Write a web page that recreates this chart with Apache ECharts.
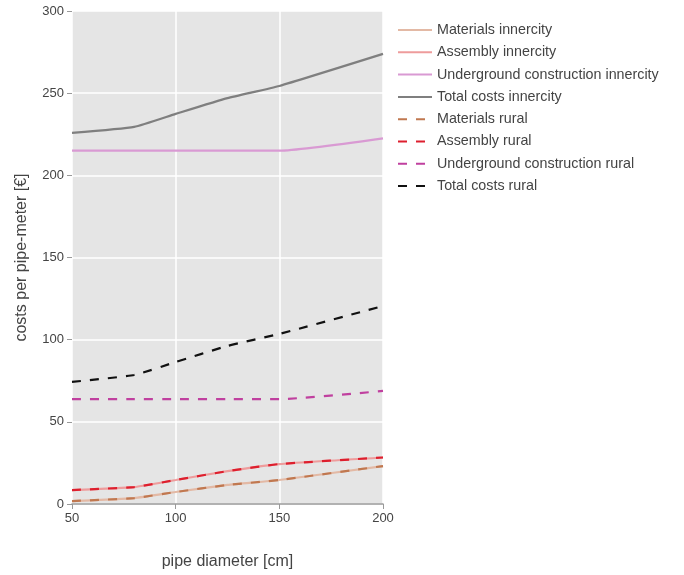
<!DOCTYPE html>
<html><head><meta charset="utf-8">
<script src="https://cdn.jsdelivr.net/npm/echarts@6/dist/echarts.min.js"></script>
<style>html,body{margin:0;padding:0;background:#fff}#c{width:684px;height:575px}</style>
</head><body><div id="c"></div>
<script>
const diameters = [50, 80, 100, 125, 150, 200];
const materialsInnercity = [1.8, 3.6, 7.3, 11.6, 14.6, 23.1];
const assemblyInnercity = [8.5, 10.3, 14.6, 20.0, 24.3, 28.3];
const undergroundInnercity = [215, 215, 215, 215, 215, 222.5];
const totalInnercity = [225.8, 229.5, 237.4, 247.0, 254.4, 273.9];
const materialsRural = [1.8, 3.6, 7.3, 11.6, 14.6, 23.1];
const assemblyRural = [8.5, 10.3, 14.6, 20.0, 24.3, 28.3];
const undergroundRural = [63.8, 63.8, 63.8, 63.8, 63.8, 68.8];
const totalRural = [74.3, 78.5, 86.4, 96.2, 103.5, 120.5];
const yTicks = [0, 50, 100, 150, 200, 250, 300];

const seriesDefs = [
  ['Materials innercity', materialsInnercity, '#e3b9a5', 'solid'],
  ['Assembly innercity', assemblyInnercity, '#ee9c9c', 'solid'],
  ['Underground construction innercity', undergroundInnercity, '#d99ad3', 'solid'],
  ['Total costs innercity', totalInnercity, '#7f7f7f', 'solid'],
  ['Materials rural', materialsRural, '#c07850', [9, 9]],
  ['Assembly rural', assemblyRural, '#dd1f2e', [9, 9]],
  ['Underground construction rural', undergroundRural, '#c0409f', [9, 9]],
  ['Total costs rural', totalRural, '#111111', [9, 9]]
];
const FONT = '"Liberation Sans", Arial, sans-serif';

const chart = echarts.init(document.getElementById('c'));
chart.setOption({
  animation: false,
  grid: {left: 72, right: 301, top: 11, bottom: 71, backgroundColor: '#e5e5e5', show: true, borderWidth: 0},
  legend: {
    orient: 'vertical', left: 392, top: 18, itemGap: 8.3, itemWidth: 34, itemHeight: 14,
    itemStyle: {opacity: 0},
    textStyle: {fontSize: 14.3, color: '#444', fontFamily: FONT},
    data: seriesDefs.map(s => s[0])
  },
  xAxis: {
    type: 'value', min: 50, max: 200, interval: 50,
    name: 'pipe diameter [cm]', nameLocation: 'middle', nameGap: 50,
    nameTextStyle: {fontSize: 16, color: '#444', fontFamily: FONT},
    axisLine: {show: true, onZero: false, lineStyle: {color: '#999', width: 1.5}},
    axisTick: {show: true, length: 5, lineStyle: {color: '#999'}},
    axisLabel: {fontSize: 13, color: '#444', margin: 8, fontFamily: FONT},
    splitLine: {show: true, lineStyle: {color: '#fff', width: 1.5}}
  },
  yAxis: {
    type: 'value', min: 0, max: 300, interval: 50,
    name: 'costs per pipe-meter [€]', nameLocation: 'middle', nameGap: 42,
    nameTextStyle: {fontSize: 16, color: '#444', fontFamily: FONT},
    axisLine: {show: false},
    axisTick: {show: true, length: 5, lineStyle: {color: '#999'}},
    axisLabel: {fontSize: 13, color: '#444', margin: 8, fontFamily: FONT,
      formatter: v => yTicks.includes(v) ? String(v) : ''},
    splitLine: {show: true, lineStyle: {color: '#fff', width: 1.5}}
  },
  series: seriesDefs.map(s => ({
    name: s[0], type: 'line', symbol: 'none', smooth: 0.15,
    data: diameters.map((d, i) => [d, s[1][i]]),
    lineStyle: {color: s[2], width: 2.2, type: s[3]},
    itemStyle: {color: s[2]}
  }))
});
</script></body></html>
